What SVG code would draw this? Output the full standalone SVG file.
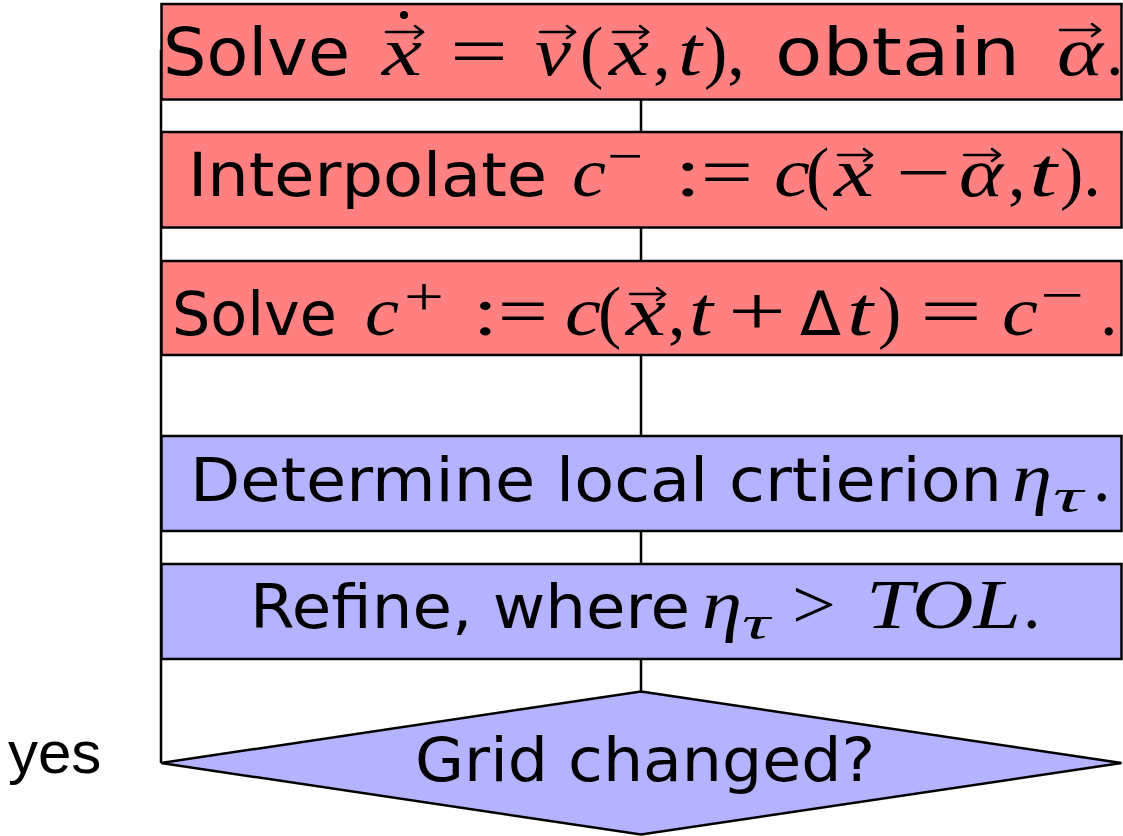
<svg xmlns="http://www.w3.org/2000/svg" width="1123" height="836" viewBox="0 0 1123 836">
<style>
.box{stroke:#000;stroke-width:2.5}
.red{fill:#FF8080}
.blue{fill:#B3B3FF}
.con{stroke:#000;stroke-width:2.5;fill:none}
.s{font-family:"DejaVu Sans",sans-serif;font-size:60px;fill:#000}
.m{font-family:"Liberation Serif",serif;font-style:italic;font-size:70px;fill:#000}
.r{font-family:"Liberation Serif",serif;font-size:70px;fill:#000}
.sup{font-family:"Liberation Serif",serif;font-size:54px;fill:#000}
.sub{font-family:"Liberation Serif",serif;font-style:italic;font-size:48px;fill:#000}
.vec{stroke:#000;stroke-width:2.5;fill:none;stroke-linecap:round}
.y{font-family:"Liberation Sans",Arial,sans-serif;font-size:60px;fill:#000}
</style>
<rect width="1123" height="836" fill="#fff"/>
<g id="connectors">
<path class="con" d="M161 50 V763"/>
<path class="con" d="M641 99 V132"/>
<path class="con" d="M641 228 V261"/>
<path class="con" d="M641 355 V436"/>
<path class="con" d="M641 531 V564"/>
<path class="con" d="M641 659 V691"/>
</g>
<g id="n1">
<rect class="box red" x="161.5" y="4" width="960" height="95.5"/>
<text class="s" x="163" y="75" textLength="187" lengthAdjust="spacingAndGlyphs" style="font-size:66px">Solve</text>
<text class="m" x="382" y="75" textLength="40" lengthAdjust="spacingAndGlyphs">x</text>
<circle cx="404" cy="15" r="4"/>
<path class="vec" d="M386 32 H423 M415 26 L423 32 L415 38"/>
<text class="r" x="450" y="75" textLength="58" lengthAdjust="spacingAndGlyphs">=</text>
<text class="m" x="535" y="75" textLength="36" lengthAdjust="spacingAndGlyphs">v</text>
<path class="vec" d="M540 32 H575 M567 26 L575 32 L567 38"/>
<text class="r" x="580" y="75">(</text>
<text class="m" x="609" y="75" textLength="40" lengthAdjust="spacingAndGlyphs">x</text>
<path class="vec" d="M613 32 H648 M640 26 L648 32 L640 38"/>
<text class="r" x="653" y="75">,</text>
<text class="m" x="678" y="75" textLength="24" lengthAdjust="spacingAndGlyphs">t</text>
<text class="r" x="704" y="75">),</text>
<text class="s" x="775" y="75" textLength="245" lengthAdjust="spacingAndGlyphs" style="font-size:66px">obtain</text>
<text class="m" x="1057" y="75" textLength="46" lengthAdjust="spacingAndGlyphs">α</text>
<path class="vec" d="M1060 30 H1100 M1092 24 L1100 30 L1092 36"/>
<text class="r" x="1106" y="75">.</text>
</g>
<g id="n2">
<rect class="box red" x="161.5" y="132" width="960" height="95.5"/>
<text class="s" x="188" y="196" textLength="359" lengthAdjust="spacingAndGlyphs">Interpolate</text>
<text class="m" x="572" y="196" textLength="34" lengthAdjust="spacingAndGlyphs">c</text>
<text class="sup" x="607" y="174" textLength="36" lengthAdjust="spacingAndGlyphs">−</text>
<text class="r" x="675" y="196" textLength="78" lengthAdjust="spacingAndGlyphs">:=</text>
<text class="m" x="774" y="196" textLength="36" lengthAdjust="spacingAndGlyphs">c</text>
<text class="r" x="806" y="196">(</text>
<text class="m" x="834" y="196" textLength="40" lengthAdjust="spacingAndGlyphs">x</text>
<path class="vec" d="M838 155 H872 M864 149 L872 155 L864 161"/>
<text class="r" x="896" y="196" textLength="55" lengthAdjust="spacingAndGlyphs">−</text>
<text class="m" x="959" y="196" textLength="44" lengthAdjust="spacingAndGlyphs">α</text>
<path class="vec" d="M964 155 H1000 M992 149 L1000 155 L992 161"/>
<text class="r" x="1008" y="196">,</text>
<text class="m" x="1029" y="196" textLength="28" lengthAdjust="spacingAndGlyphs">t</text>
<text class="r" x="1060" y="196">).</text>
</g>
<g id="n3">
<rect class="box red" x="161.5" y="261" width="960" height="94"/>
<text class="s" x="172" y="335" textLength="165" lengthAdjust="spacingAndGlyphs">Solve</text>
<text class="m" x="365" y="335" textLength="34" lengthAdjust="spacingAndGlyphs">c</text>
<text class="sup" x="404" y="315" textLength="40" lengthAdjust="spacingAndGlyphs">+</text>
<text class="r" x="473" y="335" textLength="75" lengthAdjust="spacingAndGlyphs">:=</text>
<text class="m" x="565" y="335" textLength="36" lengthAdjust="spacingAndGlyphs">c</text>
<text class="r" x="598" y="335">(</text>
<text class="m" x="626" y="335" textLength="40" lengthAdjust="spacingAndGlyphs">x</text>
<path class="vec" d="M630 294 H665 M657 288 L665 294 L657 300"/>
<text class="r" x="668" y="335">,</text>
<text class="m" x="689" y="335" textLength="24" lengthAdjust="spacingAndGlyphs">t</text>
<text class="r" x="728" y="335" textLength="58" lengthAdjust="spacingAndGlyphs">+</text>
<text class="s" x="800" y="335">Δ</text>
<text class="m" x="847" y="335" textLength="26" lengthAdjust="spacingAndGlyphs">t</text>
<text class="r" x="878" y="335">)</text>
<text class="r" x="920" y="335" textLength="62" lengthAdjust="spacingAndGlyphs">=</text>
<text class="m" x="1002" y="335" textLength="36" lengthAdjust="spacingAndGlyphs">c</text>
<text class="sup" x="1040" y="313" textLength="44" lengthAdjust="spacingAndGlyphs">−</text>
<text class="r" x="1100" y="335">.</text>
</g>
<g id="n4">
<rect class="box blue" x="161.5" y="436" width="960" height="95"/>
<text class="s" x="190" y="501" textLength="812" lengthAdjust="spacingAndGlyphs">Determine local crtierion</text>
<text class="m" x="1012" y="501" textLength="40" lengthAdjust="spacingAndGlyphs">η</text>
<text class="sub" x="1053" y="512" textLength="30" lengthAdjust="spacingAndGlyphs">τ</text>
<text class="r" x="1093" y="501">.</text>
</g>
<g id="n5">
<rect class="box blue" x="161.5" y="564" width="960" height="95"/>
<text class="s" x="250" y="628" textLength="440" lengthAdjust="spacingAndGlyphs">Refine, where</text>
<text class="m" x="702" y="628" textLength="40" lengthAdjust="spacingAndGlyphs">η</text>
<text class="sub" x="742" y="639" textLength="28" lengthAdjust="spacingAndGlyphs">τ</text>
<text class="r" x="792" y="628" textLength="44" lengthAdjust="spacingAndGlyphs">&gt;</text>
<text class="m" x="866" y="628" textLength="155" lengthAdjust="spacingAndGlyphs">TOL</text>
<text class="r" x="1023" y="628">.</text>
</g>
<g id="n6">
<polygon class="box blue" points="641,691.5 1121.5,763 641,834.5 161,763"/>
<text class="s" x="415" y="781" textLength="460" lengthAdjust="spacingAndGlyphs">Grid changed?</text>
</g>
<text class="y" x="8" y="773">yes</text>
</svg>
